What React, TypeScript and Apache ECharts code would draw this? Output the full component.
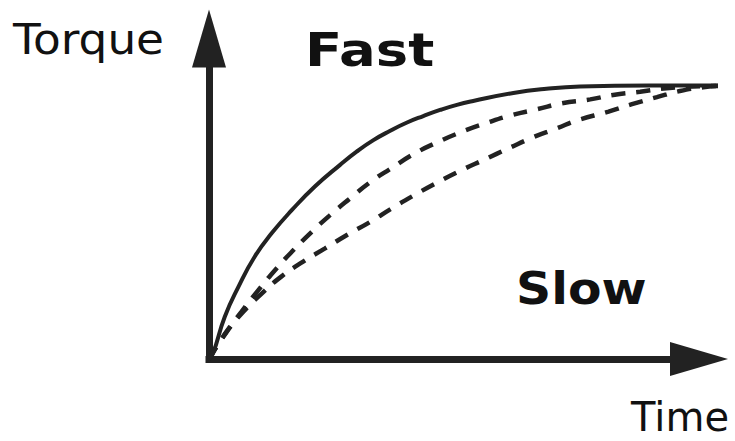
import React, { useEffect, useRef } from "react";
import * as echarts from "echarts";

// Time (x) and torque (y) samples, arbitrary units (0..100)
const fastTime = [0, 0.8, 3.1, 5.8, 9.0, 12.3, 16.3, 20.8, 25.7, 29.0, 32.3, 35.6, 38.8, 42.1, 45.4, 48.7, 51.9, 59.8, 66.3, 72.9, 86.6, 100];
const fastTorque = [0, 1.8, 13.2, 22.6, 32.0, 39.2, 46.5, 53.8, 60.5, 64.7, 68.3, 71.2, 73.7, 75.8, 77.7, 79.3, 80.5, 83.0, 84.3, 85.0, 85.3, 85.3];

const midTime = [0, 3.2, 6.4, 9.7, 13.0, 16.6, 20.2, 23.8, 27.7, 31.7, 35.9, 40.5, 45.1, 49.7, 54.6, 59.5, 64.4, 69.3, 74.9, 79.4, 84.7, 89.9, 95.1, 100];
const midTorque = [0, 8.0, 14.8, 21.5, 27.8, 34.0, 39.7, 44.9, 50.1, 55.2, 59.6, 64.2, 67.8, 70.9, 73.7, 76.1, 77.9, 79.8, 81.0, 82.4, 83.4, 84.5, 85.0, 85.2];

const slowTime = [0, 3.2, 6.6, 10.4, 14.2, 18.5, 22.8, 27.1, 31.7, 35.9, 40.4, 45.1, 49.7, 54.2, 58.8, 63.7, 68.4, 72.2, 78.5, 83.1, 88.0, 92.5, 97.1, 100];
const slowTorque = [0, 7.8, 14.5, 20.5, 25.7, 30.4, 34.5, 38.7, 42.8, 47.0, 51.2, 55.3, 59.0, 62.3, 65.7, 69.2, 72.0, 74.4, 77.2, 79.5, 81.7, 83.6, 84.8, 85.2];

const axisNames = { y: "Torque", x: "Time" };
const curveLabels = { fast: "Fast", slow: "Slow" };

const zip = (xs: number[], ys: number[]) => xs.map((x, i) => [x, ys[i]]);

const INK = "#222";

export default function App() {
  const ref = useRef<HTMLDivElement>(null);
  useEffect(() => {
    if (!ref.current) return;
    const chart = echarts.init(ref.current, undefined, { renderer: "svg" });
    const axisLine = {
      show: true,
      onZero: false,
      symbol: ["none", "triangle"],
      symbolSize: [34, 58],
      symbolOffset: [0, 0],
      lineStyle: { color: INK, width: 7, cap: "square" },
    };
    const hidden = {
      axisLine: { show: false },
      axisTick: { show: false },
      axisLabel: { show: false },
      splitLine: { show: false },
    };
    const textStyle = (font: string, align = "left") => ({
      font,
      fill: "#111",
      align,
      verticalAlign: "middle",
      textAlign: align,
      textVerticalAlign: "middle",
    });
    const lineSeries = (data: number[], times: number[], dashed: boolean) => ({
      type: "line",
      xAxisIndex: 1,
      yAxisIndex: 1,
      data: zip(times, data),
      showSymbol: false,
      smooth: 0.5,
      lineStyle: dashed
        ? { color: INK, width: 4.5, type: [14, 11] }
        : { color: INK, width: 4 },
      z: 1,
    });
    chart.setOption({
      animation: false,
      backgroundColor: "#fff",
      grid: [
        { left: 209, right: 36, top: 38.5, bottom: 82 },
        { left: 209, right: 17, top: 38.5, bottom: 82 },
      ],
      xAxis: [
        { type: "value", gridIndex: 0, min: 0, max: 100, axisLine, axisTick: { show: false }, axisLabel: { show: false }, splitLine: { show: false } },
        { type: "value", gridIndex: 1, min: 0, max: 100, ...hidden },
      ],
      yAxis: [
        { type: "value", gridIndex: 0, min: 0, max: 100, axisLine, axisTick: { show: false }, axisLabel: { show: false }, splitLine: { show: false } },
        { type: "value", gridIndex: 1, min: 0, max: 100, ...hidden },
      ],
      series: [
        lineSeries(fastTorque, fastTime, false),
        lineSeries(midTorque, midTime, true),
        lineSeries(slowTorque, slowTime, true),
      ],
      graphic: [
        { type: "text", x: 13, y: 39, scaleX: 1.08, style: { text: axisNames.y, ...textStyle('42px "DejaVu Sans"') } },
        { type: "text", x: 729, y: 417, style: { text: axisNames.x, ...textStyle('40px "DejaVu Sans"', "right") } },
        { type: "text", x: 305, y: 49.5, scaleX: 1.16, style: { text: curveLabels.fast, ...textStyle('bold 47px "DejaVu Sans"') } },
        { type: "text", x: 516, y: 289, scaleX: 1.11, style: { text: curveLabels.slow, ...textStyle('bold 44px "DejaVu Sans"') } },
      ],
    });
    return () => chart.dispose();
  }, []);
  return (
    <div
      ref={ref}
      style={{ position: "fixed", left: 0, top: 0, width: 735, height: 441 }}
    />
  );
}
